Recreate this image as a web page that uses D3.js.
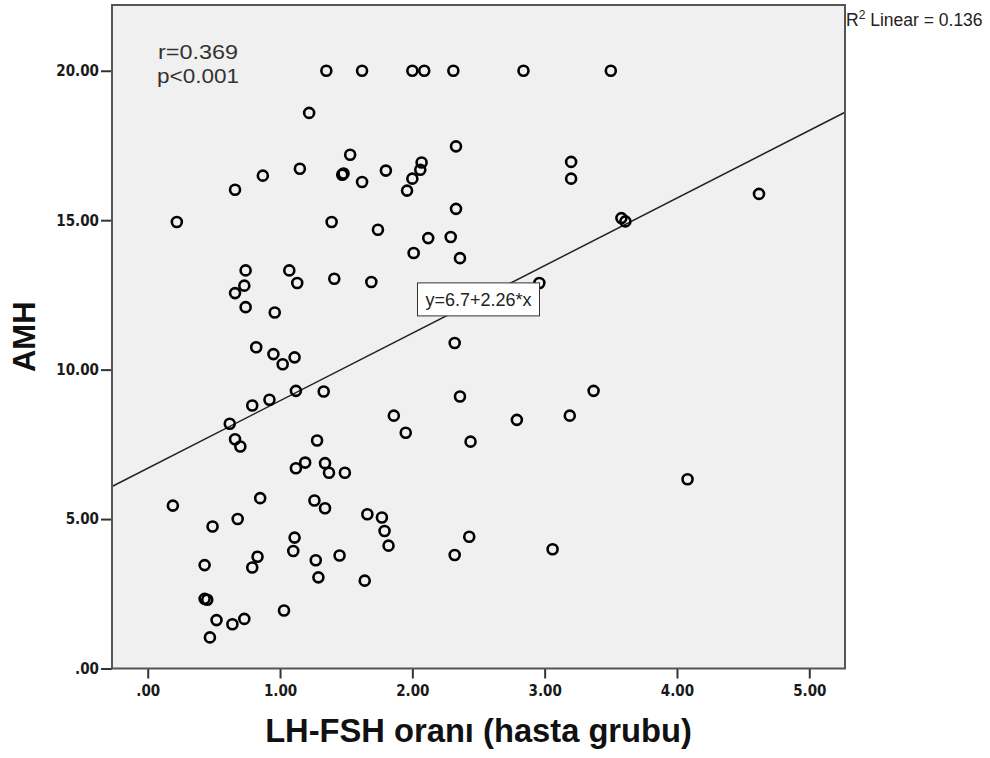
<!DOCTYPE html>
<html>
<head>
<meta charset="utf-8">
<script src="https://cdn.jsdelivr.net/npm/d3@7"></script>
<style>
  body { margin: 0; background: #fff; }
  svg { display: block; }
</style>
</head>
<body>
<div id="chart"></div>
<script>
var width = 990,
    height = 758;

// LH-FSH ratio (x) and AMH (y)
var lhFsh = [1.35, 1.62, 2.00, 2.09, 2.31, 2.84, 3.50,
  1.22, 1.15, 0.87, 0.66, 0.22, 1.39, 0.74, 0.73, 0.66, 0.74, 1.07, 1.13, 0.96,
  0.82, 0.95, 1.02, 1.11, 1.12, 1.33, 0.92, 0.79, 0.62, 0.66, 0.70, 1.28, 1.12,
  1.19, 1.34, 1.37, 1.49, 0.85, 1.26, 0.19, 1.34, 0.49, 0.68, 1.11, 1.10, 0.83,
  0.79, 0.43, 1.27, 1.29, 0.43, 0.45, 0.52, 0.64, 0.73, 0.47, 1.03, 1.66, 1.77,
  1.79, 1.82, 1.45, 1.64, 2.32, 2.43, 3.06, 2.01, 2.36, 1.41, 1.69, 2.96, 2.32,
  2.36, 3.37, 1.86, 1.95, 2.79, 3.19, 2.44, 1.53, 1.47, 1.48, 1.62, 1.80, 2.07,
  2.06, 2.00, 1.96, 2.33, 2.33, 3.20, 3.20, 3.58, 3.61, 1.74, 2.12, 2.29, 4.62,
  4.08];
var amh = [20, 20, 20, 20, 20, 20, 20,
  18.59, 16.72, 16.49, 16.02, 14.94, 14.94, 13.32, 12.81, 12.56, 12.09, 13.32, 12.90, 11.91,
  10.75, 10.52, 10.18, 10.41, 9.29, 9.27, 8.99, 8.80, 8.19, 7.67, 7.43, 7.63, 6.70,
  6.89, 6.87, 6.55, 6.55, 5.70, 5.62, 5.45, 5.36, 4.75, 5.00, 4.38, 3.93, 3.74,
  3.38, 3.46, 3.62, 3.05, 2.33, 2.30, 1.62, 1.48, 1.66, 1.04, 1.94, 5.16, 5.05,
  4.60, 4.11, 3.78, 2.94, 3.80, 4.41, 3.99, 13.90, 13.73, 13.04, 12.93, 12.90, 10.89,
  9.10, 9.29, 8.46, 7.89, 8.32, 8.46, 7.59, 17.19, 16.52, 16.56, 16.28, 16.66, 16.93,
  16.69, 16.39, 15.99, 17.47, 15.38, 16.95, 16.39, 15.07, 14.96, 14.68, 14.40, 14.44, 15.88,
  6.33];

var xTicks = [0, 1, 2, 3, 4, 5];
var yTicks = [0, 5, 10, 15, 20];

var fitIntercept = 6.7,
    fitSlope = 2.26;

var svg = d3.select("#chart")
    .append("svg")
    .attr("width", width)
    .attr("height", height);

var plotLeft = 112, plotRight = 845, plotTop = 5, plotBottom = 668.5;

var x = d3.scaleLinear().domain([-0.27, 5.27]).range([plotLeft, plotRight]);
var y = d3.scaleLinear().domain([0, 22.2]).range([plotBottom, plotTop]);

// spss style ".00" labels
var fmt = function (d) {
    return d3.format(".2f")(d).replace(/^0\./, ".");
};

// plot background
svg.append("rect")
    .attr("x", plotLeft)
    .attr("y", plotTop)
    .attr("width", plotRight - plotLeft)
    .attr("height", plotBottom - plotTop)
    .style("fill", "#f0f0f0");

// y axis
var yAxis = svg.append("g")
    .attr("transform", "translate(" + plotLeft + ",0)")
    .call(d3.axisLeft(y).tickValues(yTicks).tickFormat(fmt).tickSize(11).tickPadding(2));
yAxis.select(".domain").remove();

// x axis
var xAxis = svg.append("g")
    .attr("transform", "translate(0," + plotBottom + ")")
    .call(d3.axisBottom(x).tickValues(xTicks).tickFormat(fmt).tickSize(10).tickPadding(7));
xAxis.select(".domain").remove();

svg.selectAll(".tick line").style("stroke", "#333").style("stroke-width", 2);
svg.selectAll(".tick text")
    .style("font-family", "DejaVu Sans Condensed, DejaVu Sans")
    .style("font-weight", "bold")
    .style("font-size", "15px")
    .style("fill", "#1a1a1a");

// regression line
var xd = x.domain();
svg.append("line")
    .attr("x1", x(xd[0]))
    .attr("y1", y(fitIntercept + fitSlope * xd[0]))
    .attr("x2", x(xd[1]))
    .attr("y2", y(fitIntercept + fitSlope * xd[1]))
    .style("stroke", "#222")
    .style("stroke-width", 1.5);

// points
var points = lhFsh.map(function (v, i) { return { lh: v, amh: amh[i] }; });
svg.selectAll(".pt")
    .data(points)
    .enter().append("circle")
    .attr("class", "pt")
    .attr("cx", function (d) { return x(d.lh); })
    .attr("cy", function (d) { return y(d.amh); })
    .attr("r", 5)
    .style("fill", "none")
    .style("stroke", "#000")
    .style("stroke-width", 2.6);

// frame
svg.append("rect")
    .attr("x", plotLeft)
    .attr("y", plotTop)
    .attr("width", plotRight - plotLeft)
    .attr("height", plotBottom - plotTop)
    .style("fill", "none")
    .style("stroke", "#555")
    .style("stroke-width", 2);

// equation box, centred on the line at the middle of the x range
var midX = (xd[0] + xd[1]) / 2;
var eqG = svg.append("g")
    .attr("transform", "translate(" + x(midX) + "," + y(fitIntercept + fitSlope * midX) + ")");
eqG.append("rect")
    .attr("x", -61).attr("y", -16.5)
    .attr("width", 122).attr("height", 33)
    .style("fill", "#fff")
    .style("stroke", "#333")
    .style("stroke-width", 1);
eqG.append("text")
    .attr("text-anchor", "middle")
    .attr("dy", "0.35em")
    .style("font-family", "Liberation Sans")
    .style("font-size", "18px")
    .style("fill", "#222")
    .text("y=6.7+2.26*x");

// r and p (the reference text is a bit wide, stretch glyphs to match)
svg.append("text")
    .attr("x", 158).attr("y", 59)
    .style("font-family", "Liberation Sans")
    .style("font-size", "21px")
    .attr("textLength", 80)
    .attr("lengthAdjust", "spacingAndGlyphs")
    .style("fill", "#333")
    .text("r=0.369");
svg.append("text")
    .attr("x", 157).attr("y", 83)
    .style("font-family", "Liberation Sans")
    .style("font-size", "21px")
    .attr("textLength", 82)
    .attr("lengthAdjust", "spacingAndGlyphs")
    .style("fill", "#333")
    .text("p<0.001");

// R2 label
var r2 = svg.append("text")
    .attr("x", 846).attr("y", 26)
    .style("font-family", "Liberation Sans")
    .style("font-size", "17.5px")
    .style("fill", "#222");
r2.append("tspan").text("R");
r2.append("tspan").attr("dy", -7).style("font-size", "12px").text("2");
r2.append("tspan").attr("dy", 7).text(" Linear = 0.136");

// axis titles
svg.append("text")
    .attr("transform", "translate(35," + ((plotTop + plotBottom) / 2) + ") rotate(-90)")
    .attr("text-anchor", "middle")
    .style("font-family", "Liberation Sans")
    .style("font-weight", "bold")
    .style("font-size", "31px")
    .style("fill", "#111")
    .text("AMH");

svg.append("text")
    .attr("x", (plotLeft + plotRight) / 2)
    .attr("y", 742)
    .attr("text-anchor", "middle")
    .style("font-family", "Liberation Sans")
    .style("font-weight", "bold")
    .style("font-size", "32.7px")
    .style("fill", "#111")
    .text("LH-FSH oranı (hasta grubu)");
</script>
</body>
</html>
